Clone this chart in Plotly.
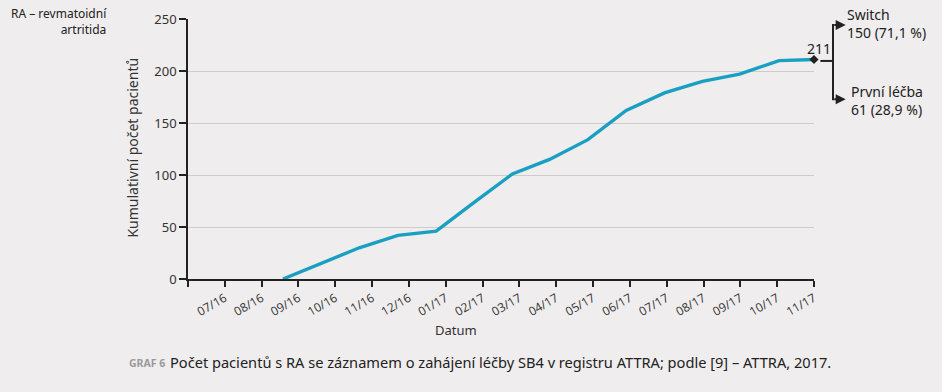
import plotly.graph_objects as go

# ---- data ----
tick_labels = ["", "07/16", "08/16", "09/16", "10/16", "11/16", "12/16", "01/17", "02/17",
               "03/17", "04/17", "05/17", "06/17", "07/17", "08/17", "09/17", "10/17", "11/17"]
month_pos = [2.58, 3.6, 4.65, 5.7, 6.74, 7.78, 8.81, 9.82, 10.86, 11.9, 12.94, 13.97, 14.98, 16.05, 17.0]
cum_patients = [0, 15, 30, 42, 46, 74, 101, 115, 134, 162, 179, 190, 197, 210, 211]
total_label = "211"
switch_label = ["Switch", "150 (71,1 %)"]
first_label = ["První léčba", "61 (28,9 %)"]

BG = "#efeded"
LINE = "#199fc2"
FONT = "Noto Sans"

fig = go.Figure()
fig.add_trace(go.Scatter(x=month_pos, y=cum_patients, mode="lines",
                         line=dict(color=LINE, width=3.4), hoverinfo="skip",
                         cliponaxis=False))

fig.update_layout(
    width=942, height=392, paper_bgcolor=BG, plot_bgcolor=BG,
    margin=dict(l=188, r=128, t=19, b=113, autoexpand=False),
    showlegend=False,
    font=dict(family=FONT, color="#222", size=13),
)
fig.update_xaxes(range=[0, 17], tickmode="array", tickvals=list(range(len(tick_labels))),
                 ticktext=tick_labels, tickangle=-30, ticks="outside", ticklen=6,
                 tickcolor="#222", tickwidth=1.5, showline=True, linecolor="#222", linewidth=1.5,
                 showgrid=False, zeroline=False, tickfont=dict(size=12, color="#333", family="Open Sans"))
fig.update_yaxes(range=[0, 250], tickvals=[0, 50, 100, 150, 200, 250], ticks="outside",
                 ticklen=7, tickcolor="#222", tickwidth=1.5, showline=True, linecolor="#222",
                 linewidth=1.5, showgrid=True, gridcolor="#cccccc", gridwidth=1, zeroline=False,
                 tickfont=dict(size=13, color="#333"))

def px(xp):
    return (xp - 188.3) / 626.0

def py(yp):
    return (279.3 - yp) / 260.3

ann = []
# y title
ann.append(dict(text="Kumulativní počet pacientů", xref="paper", yref="paper", x=px(133), y=py(148),
                xanchor="center", yanchor="middle",
                textangle=-90, showarrow=False, font=dict(size=14, color="#333")))
# x title
ann.append(dict(text="Datum", xref="paper", yref="paper", x=px(456), y=py(330),
                xanchor="center", yanchor="middle",
                showarrow=False, font=dict(size=13, color="#333")))
# top-left note
ann.append(dict(text="RA – revmatoidní<br>artritida", xref="paper", yref="paper", x=px(109), y=py(22),
                xanchor="right", yanchor="middle", align="right", showarrow=False,
                font=dict(size=12, color="#222")))
# caption
ann.append(dict(text="<b>GRAF 6</b>", xref="paper", yref="paper", x=px(127), y=py(363),
                xanchor="left", yanchor="middle", showarrow=False, font=dict(size=10.5, color="#9a9a9a")))
ann.append(dict(text="Počet pacientů s RA se záznamem o zahájení léčby SB4 v registru ATTRA; podle [9] – ATTRA, 2017.",
                xref="paper", yref="paper", x=px(168), y=py(362), xanchor="left", yanchor="middle",
                showarrow=False, font=dict(size=14.6, color="#222")))
# total label
ann.append(dict(text=total_label, x=month_pos[-1], y=cum_patients[-1], xref="x", yref="y",
                xshift=5, yshift=11, showarrow=False, font=dict(size=14, color="#222")))
# split texts
ann.append(dict(text=switch_label[0] + "<br>" + switch_label[1], xref="paper", yref="paper",
                x=px(845), y=py(24), xanchor="left", yanchor="middle", align="left", showarrow=False,
                font=dict(size=14, color="#222")))
ann.append(dict(text=first_label[0] + "<br>" + first_label[1], xref="paper", yref="paper",
                x=px(849), y=py(101), xanchor="left", yanchor="middle", align="left", showarrow=False,
                font=dict(size=14, color="#222")))
# arrows
for yy in (25, 99.3):
    ann.append(dict(xref="paper", yref="paper", x=px(846), y=py(yy), ax=-13, ay=0,
                    axref="pixel", ayref="pixel", showarrow=True, arrowhead=2, arrowsize=1,
                    arrowwidth=2, arrowcolor="#222", text=""))
fig.update_layout(annotations=ann)

shapes = [
    dict(type="line", xref="paper", yref="paper", x0=px(820.7), x1=px(834), y0=py(61), y1=py(61),
         line=dict(color="#222", width=2)),
    dict(type="line", xref="paper", yref="paper", x0=px(833.3), x1=px(833.3), y0=py(24), y1=py(100.3),
         line=dict(color="#222", width=2)),
]
fig.update_layout(shapes=shapes)

# end marker
fig.add_trace(go.Scatter(x=[month_pos[-1]], y=[cum_patients[-1]], mode="markers",
                         marker=dict(symbol="diamond", size=7, color="#222"), cliponaxis=False,
                         hoverinfo="skip"))

fig.write_html("out.html", config={"displayModeBar": False},
               post_script="document.body.style.margin='0';document.body.style.background='%s';" % BG)
